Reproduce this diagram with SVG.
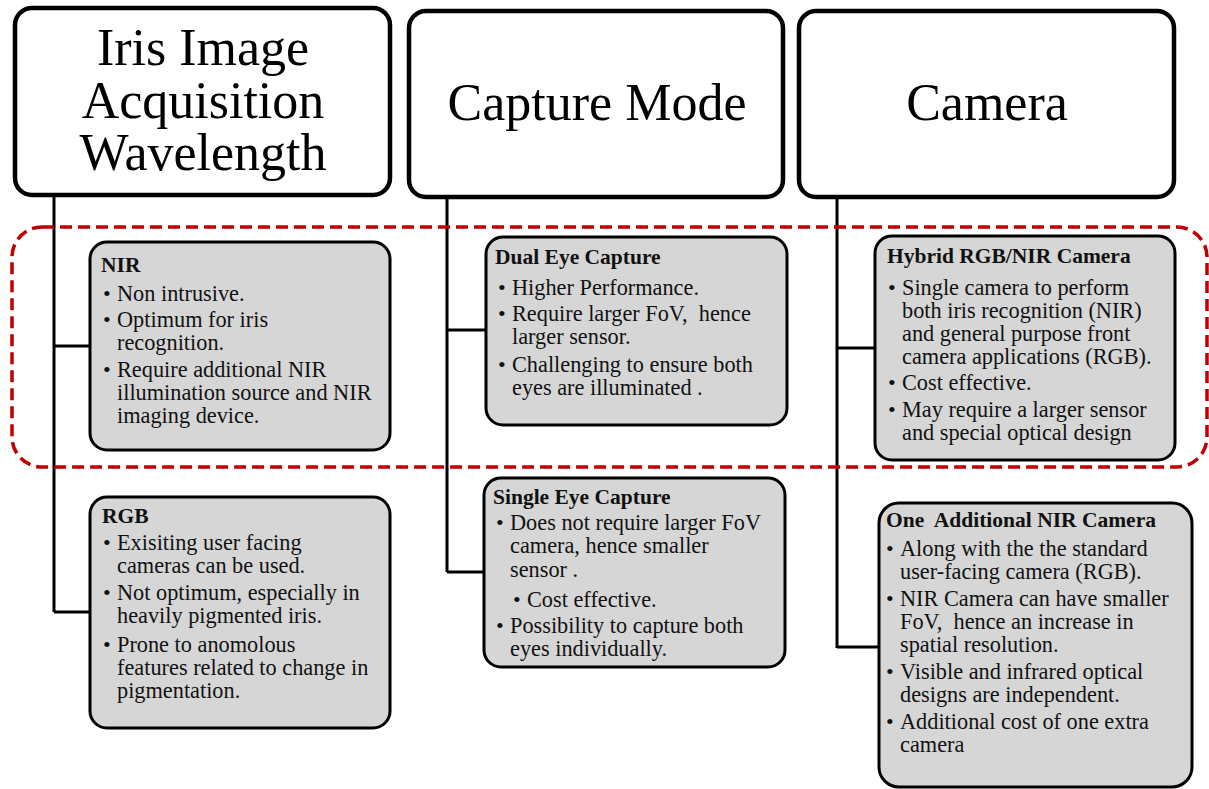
<svg xmlns="http://www.w3.org/2000/svg" width="1209" height="789" viewBox="0 0 1209 789">
<style>
.top{fill:#fff;stroke:#000;stroke-width:4.5}
.box{fill:#d6d6d6;stroke:#000;stroke-width:3}
.title{font-family:"Liberation Serif",serif;font-size:52px;fill:#000;text-anchor:middle}
.h{font-family:"Liberation Serif",serif;font-size:21.5px;font-weight:bold;fill:#111}
.t{font-family:"Liberation Serif",serif;font-size:22.3px;fill:#111}
.b{font-family:"Liberation Serif",serif;font-size:22px;fill:#111}
.con{stroke:#000;stroke-width:3;fill:none}
</style>
<rect x="0" y="0" width="1209" height="789" fill="#fff"/>
<g id="connectors">
<path class="con" d="M54 195V612M54 346H90M54 612H90"/>
<path class="con" d="M447 197V572M447 330H486M447 572H484"/>
<path class="con" d="M837 197V648M837 348H875M837 647H878"/>
</g>
<g id="highlight">
<rect x="12" y="227" width="1195" height="240" rx="30" fill="none" stroke="#c00000" stroke-width="3.5" stroke-dasharray="12 6"/>
</g>
<g id="wavelength">
<rect class="top" x="15" y="8" width="375" height="187" rx="17"/>
<text class="title" x="203" y="65">Iris Image</text>
<text class="title" x="203" y="118">Acquisition</text>
<text class="title" x="203" y="170">Wavelength</text>
</g>
<g id="capturemode">
<rect class="top" x="409" y="11" width="374" height="186" rx="17"/>
<text class="title" x="597" y="120">Capture Mode</text>
</g>
<g id="camera">
<rect class="top" x="799" y="11" width="375" height="186" rx="17"/>
<text class="title" x="987" y="120">Camera</text>
</g>
<g id="nir">
<rect class="box" x="90" y="242" width="300" height="208" rx="17"/>
<text class="h" x="101" y="272">NIR</text>
<text class="b" x="103" y="301">•</text><text class="t" x="117" y="301">Non intrusive.</text>
<text class="b" x="103" y="327">•</text><text class="t" x="117" y="327">Optimum for iris</text>
<text class="t" x="117" y="350">recognition.</text>
<text class="b" x="103" y="377">•</text><text class="t" x="117" y="377">Require additional NIR</text>
<text class="t" x="117" y="400">illumination source and NIR</text>
<text class="t" x="117" y="423">imaging device.</text>
</g>
<g id="rgb">
<rect class="box" x="90" y="497" width="300" height="231" rx="17"/>
<text class="h" x="102" y="523">RGB</text>
<text class="b" x="103" y="550">•</text><text class="t" x="117" y="550">Exisiting user facing</text>
<text class="t" x="117" y="573">cameras can be used.</text>
<text class="b" x="103" y="600">•</text><text class="t" x="117" y="600">Not optimum, especially in</text>
<text class="t" x="117" y="623">heavily pigmented iris.</text>
<text class="b" x="103" y="652">•</text><text class="t" x="117" y="652">Prone to anomolous</text>
<text class="t" x="117" y="675">features related to change in</text>
<text class="t" x="117" y="698">pigmentation.</text>
</g>
<g id="dual">
<rect class="box" x="486" y="237" width="301" height="188" rx="17"/>
<text class="h" x="495" y="264">Dual Eye Capture</text>
<text class="b" x="498" y="295">•</text><text class="t" x="512" y="295">Higher Performance.</text>
<text class="b" x="498" y="321">•</text><text class="t" x="512" y="321" xml:space="preserve">Require larger FoV,  hence</text>
<text class="t" x="512" y="344">larger sensor.</text>
<text class="b" x="498" y="372">•</text><text class="t" x="512" y="372">Challenging to ensure both</text>
<text class="t" x="512" y="395">eyes are illuminated .</text>
</g>
<g id="single">
<rect class="box" x="484" y="478" width="301" height="189" rx="17"/>
<text class="h" x="493" y="504">Single Eye Capture</text>
<text class="b" x="496" y="530">•</text><text class="t" x="510" y="530">Does not require larger FoV</text>
<text class="t" x="510" y="553">camera, hence smaller</text>
<text class="t" x="510" y="577">sensor .</text>
<text class="b" x="513" y="607">•</text><text class="t" x="527" y="607">Cost effective.</text>
<text class="b" x="496" y="633">•</text><text class="t" x="510" y="633">Possibility to capture both</text>
<text class="t" x="510" y="656">eyes individually.</text>
</g>
<g id="hybrid">
<rect class="box" x="875" y="236" width="300" height="224" rx="17"/>
<text class="h" x="887" y="263">Hybrid RGB/NIR Camera</text>
<text class="b" x="888" y="295">•</text><text class="t" x="902" y="295">Single camera to perform</text>
<text class="t" x="902" y="318">both iris recognition (NIR)</text>
<text class="t" x="902" y="341">and general purpose front</text>
<text class="t" x="902" y="364">camera applications (RGB).</text>
<text class="b" x="888" y="390">•</text><text class="t" x="902" y="390">Cost effective.</text>
<text class="b" x="888" y="417">•</text><text class="t" x="902" y="417">May require a larger sensor</text>
<text class="t" x="902" y="440">and special optical design</text>
</g>
<g id="additional">
<rect class="box" x="879" y="503" width="313" height="284" rx="20"/>
<text class="h" x="886" y="527" xml:space="preserve">One  Additional NIR Camera</text>
<text class="b" x="886" y="556">•</text><text class="t" x="900" y="556">Along with the the standard</text>
<text class="t" x="900" y="579">user-facing camera (RGB).</text>
<text class="b" x="886" y="606">•</text><text class="t" x="900" y="606">NIR Camera can have smaller</text>
<text class="t" x="900" y="629" xml:space="preserve">FoV,  hence an increase in</text>
<text class="t" x="900" y="652">spatial resolution.</text>
<text class="b" x="886" y="679">•</text><text class="t" x="900" y="679">Visible and infrared optical</text>
<text class="t" x="900" y="702">designs are independent.</text>
<text class="b" x="886" y="729">•</text><text class="t" x="900" y="729">Additional cost of one extra</text>
<text class="t" x="900" y="752">camera</text>
</g>
</svg>
